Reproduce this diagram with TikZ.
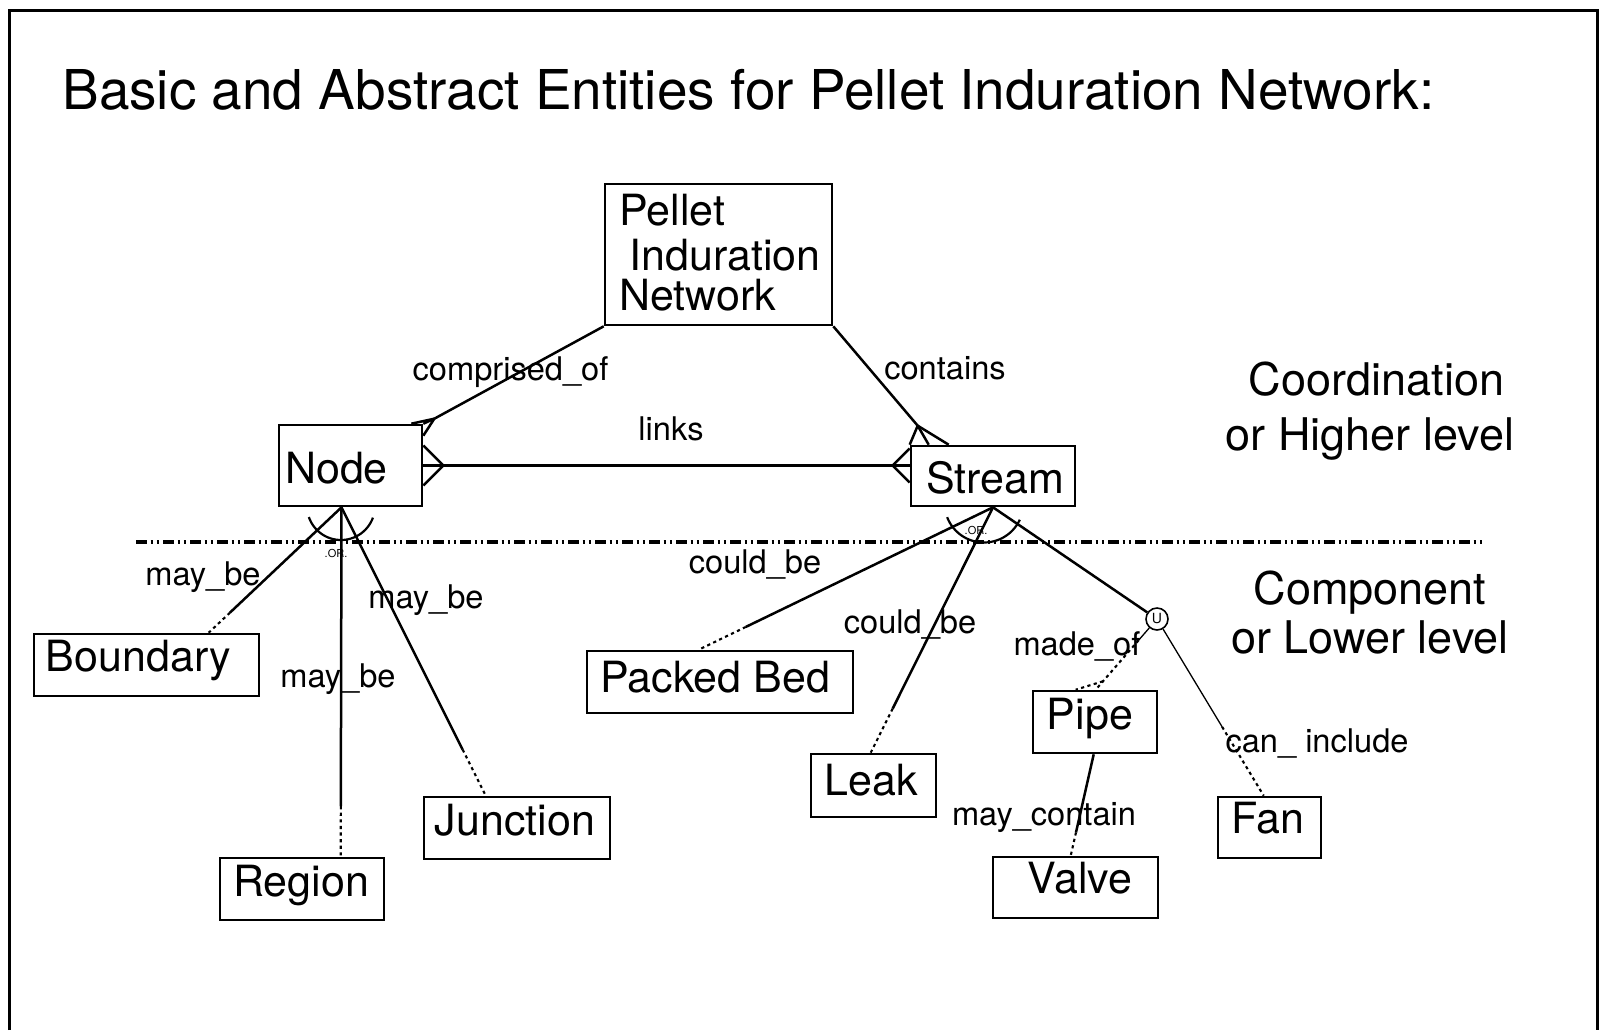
\documentclass[tikz,border=0pt]{standalone}
\usepackage{fontspec}
\setmainfont{TeX Gyre Heros}
\usetikzlibrary{fit,calc}
\newcommand\sdl[4]{%
  \draw[#4] (#1) -- ($(#1)!#3!(#2)$);
  \draw[dotrel] ($(#1)!#3!(#2)$) -- (#2);}
\begin{document}
\begin{tikzpicture}[x=0.5pt,y=-0.5pt,
  ebox/.style={draw, line width=1.3pt, inner sep=0pt},
  btext/.style={font=\fontsize{21.5pt}{21.5pt}\selectfont, inner sep=0pt, anchor=base},
  lbl/.style={font=\fontsize{16.3pt}{16.3pt}\selectfont, inner sep=0pt, anchor=base},
  side/.style={font=\fontsize{22.5pt}{22.5pt}\selectfont, inner sep=0pt, anchor=base},
  rel/.style={line width=1.25pt},
  thinrel/.style={line width=0.65pt},
  dotrel/.style={line width=1.05pt, dash pattern=on 1.6pt off 1.7pt},
  tinytext/.style={font=\fontsize{5.5pt}{5.5pt}\selectfont, inner sep=0pt},
  orarc/.style={line width=1.1pt}
]
\useasboundingbox (0,0) rectangle (1600,1030);
\draw[line width=1.5pt] (9,1030) -- (9,10) -- (1597,10) -- (1597,1030);

\node[anchor=base west, inner sep=0pt, font=\fontsize{27.45pt}{27.45pt}\selectfont] (title) at (62,109) {Basic and Abstract Entities for Pellet Induration Network:};

% boxes
\node[ebox, fit={(605,184) (832,325)}] (pin) {};
\node[btext, anchor=base west] (pin1) at (619,225) {Pellet};
\node[btext, anchor=base west] (pin2) at (629,270) {Induration};
\node[btext, anchor=base west] (pin3) at (619,310) {Network};

\node[ebox, fit={(279,425) (422,506)}] (nodebox) {};
\node[btext] (nodetxt) at (336.5,483) {Node};
\node[ebox, fit={(911,446) (1075,506)}] (stream) {};
\node[btext] (streamtxt) at (995,493) {Stream};
\node[ebox, fit={(34,634) (259,696)}] (boundary) {};
\node[btext] (boundarytxt) at (138.5,671) {Boundary};
\node[ebox, fit={(220,858) (384,920)}] (region) {};
\node[btext] (regiontxt) at (301,896) {Region};
\node[ebox, fit={(424,797) (610,859)}] (junction) {};
\node[btext] (junctiontxt) at (515,835) {Junction};
\node[ebox, fit={(587,651) (853,713)}] (packed) {};
\node[btext] (packedtxt) at (715,692) {Packed Bed};
\node[ebox, fit={(811,754) (936,817)}] (leak) {};
\node[btext] (leaktxt) at (871,795) {Leak};
\node[ebox, fit={(1033,691) (1157,753)}] (pipe) {};
\node[btext] (pipetxt) at (1090,729) {Pipe};
\node[ebox, fit={(993,857) (1158,918)}] (valve) {};
\node[btext] (valvetxt) at (1080,893) {Valve};
\node[ebox, fit={(1218,797) (1321,858)}] (fan) {};
\node[btext] (fantxt) at (1268,833) {Fan};

\node[draw, circle, line width=0.8pt, minimum size=11pt, inner sep=0pt,
      font=\fontsize{7pt}{7pt}\selectfont] (u) at (1157,619) {U};

% separator
\coordinate (sepL) at (136,542);
\coordinate (sepR) at (1483,542);
\draw[line width=1.6pt, dash pattern=on 5.5pt off 1.8pt on 1.3pt off 1.8pt on 1.3pt off 1.8pt] (sepL) -- (sepR);

% comprised_of crow's foot
\coordinate (a1) at ($(nodebox.north east)+(11,-5)$);
\draw[rel] (pin.south west) -- (a1);
\draw[rel] (a1) -- ($(nodebox.north east)+(-12,0)$);
\draw[rel] (a1) -- (nodebox.north east);
\draw[rel] (a1) -- ($(nodebox.north east)+(0,12)$);

% contains crow's foot
\coordinate (a2) at ($(stream.north west)+(8,-19)$);
\draw[rel] (pin.south east) -- (a2);
\draw[rel] (a2) -- (stream.north west);
\draw[rel] (a2) -- ($(stream.north west)+(19,0)$);
\draw[rel] (a2) -- ($(stream.north west)+(39,0)$);

% links
\coordinate (l2) at (nodebox.east -| stream.west);
\draw[rel] (nodebox.east) -- (l2);
\coordinate (c1) at ($(nodebox.east)+(20,0)$);
\draw[rel] ($(nodebox.east)+(0,-20)$) -- (c1) -- ($(nodebox.east)+(0,20)$);
\coordinate (c2) at ($(l2)+(-17,0)$);
\draw[rel] ($(l2)+(0,-17)$) -- (c2) -- ($(l2)+(0,17)$);

% lower connectors
\coordinate (nb) at ($(nodebox.south)+(-9,0)$);
\coordinate (bt) at ($(boundary.north west)+(176,0)$);
\coordinate (rt) at ($(region.north west)+(122,0)$);
\coordinate (jt) at ($(junction.north west)+(63,0)$);
\coordinate (sb) at (stream.south);
\coordinate (pbt) at ($(packed.north west)+(113,0)$);
\coordinate (lt) at ($(leak.north west)+(61,0)$);
\coordinate (pt) at ($(pipe.north west)+(64,0)$);
\coordinate (pt2) at ($(pipe.north west)+(44,0)$);
\coordinate (ft) at ($(fan.north west)+(47,0)$);
\coordinate (pb) at ($(pipe.south west)+(62,0)$);
\coordinate (vt) at ($(valve.north west)+(79,0)$);

\sdl{nb}{bt}{0.84}{rel}
\sdl{nb}{rt}{0.855}{rel}
\sdl{nb}{jt}{0.84}{rel}
\sdl{sb}{pbt}{0.84}{rel}
\sdl{sb}{lt}{0.82}{rel}
\draw[rel] (sb) -- (u);
\draw[thinrel] (u) -- ($(u)!0.3!(pt)$);
\draw[dotrel] ($(u)!0.3!(pt)$) -- (pt);
\draw[dotrel] ($(u)!0.88!(pt)$) -- (pt2);
\draw[thinrel] (u) -- ($(u)!0.61!(ft)$);
\draw[dotrel] ($(u)!0.61!(ft)$) -- (ft);
\sdl{pb}{vt}{0.77}{rel}

% OR arcs
\draw[orarc] plot[domain=20:161, samples=30, smooth] ({341+34*cos(\x)},{506+34*sin(\x)});
\draw[orarc] plot[domain=25:159, samples=30, smooth] ({984+39.5*cos(\x)},{503+39.5*sin(\x)});
\node[tinytext] (or1) at (336,553) {.OR.};
\node[tinytext] (or2) at (976,530) {.OR.};

% relation labels
\node[lbl] (lcomp) at (510.5,380) {comprised\_of};
\node[lbl] (lcont) at (945,379) {contains};
\node[lbl] (llinks) at (671,440) {links};
\node[lbl] (lmb1) at (203,585) {may\_be};
\node[lbl] (lmb2) at (426,608) {may\_be};
\node[lbl] (lmb3) at (338,687) {may\_be};
\node[lbl] (lcb1) at (755,573) {could\_be};
\node[lbl] (lcb2) at (910,633) {could\_be};
\node[lbl] (lmo) at (1077,655) {made\_of};
\node[lbl] (lci) at (1317,752) {can\_ include};
\node[lbl] (lmc) at (1044,825) {may\_contain};

% side labels
\node[side] (s1) at (1376.5,395) {Coordination};
\node[side] (s2) at (1370,450) {or Higher level};
\node[side] (s3) at (1370,604) {Component};
\node[side] (s4) at (1370,653) {or Lower level};
\end{tikzpicture}
\end{document}
